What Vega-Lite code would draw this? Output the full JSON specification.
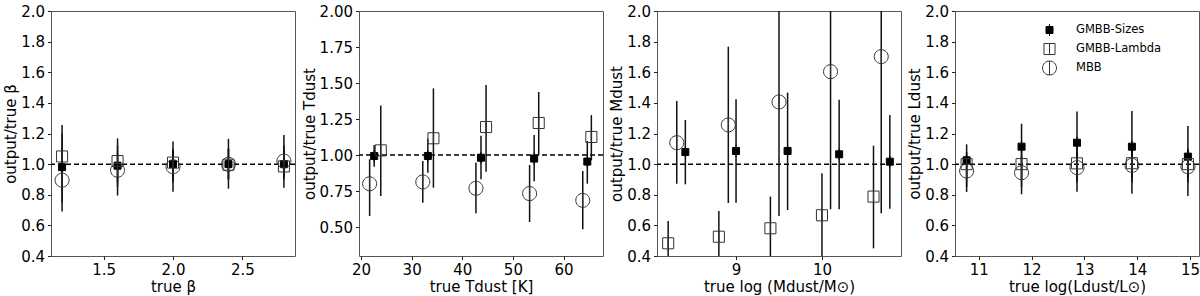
{
  "$schema": "https://vega.github.io/schema/vega-lite/v6.json",
  "padding": {"left": 3, "top": 3, "right": 2, "bottom": 0},
  "background": "white",
  "config": {
    "font": "DejaVu Sans",
    "view": {"stroke": "#555", "strokeWidth": 1},
    "axis": {"grid": false, "domain": false, "tickColor": "#222", "tickSize": 3.5, "tickWidth": 1, "labelFontSize": 15, "titleFontSize": 15, "labelColor": "black", "titleColor": "black", "titleFontWeight": 400, "labelPadding": 3, "titlePadding": 2, "labelFlush": false, "labelOverlap": false, "tickCount": 20}
  },
  "resolve": {
    "scale": {"shape": "independent", "size": "independent", "fill": "independent", "stroke": "independent"},
    "legend": {"shape": "independent", "size": "independent", "fill": "independent", "stroke": "independent"}
  },
  "datasets": {
    "d": [
      {"panel": 1, "series": "GMBB-Sizes", "x": 1.2, "y": 0.98, "lo": 0.69, "hi": 1.255},
      {"panel": 1, "series": "GMBB-Sizes", "x": 1.6, "y": 0.99, "lo": 0.795, "hi": 1.168},
      {"panel": 1, "series": "GMBB-Sizes", "x": 2.0, "y": 1.0, "lo": 0.82, "hi": 1.147},
      {"panel": 1, "series": "GMBB-Sizes", "x": 2.4, "y": 1.0, "lo": 0.84, "hi": 1.165},
      {"panel": 1, "series": "GMBB-Sizes", "x": 2.8, "y": 1.0, "lo": 0.845, "hi": 1.19},
      {"panel": 1, "series": "GMBB-Lambda", "x": 1.2, "y": 1.05, "lo": 0.85, "hi": 1.2},
      {"panel": 1, "series": "GMBB-Lambda", "x": 1.6, "y": 1.02, "lo": 0.88, "hi": 1.12},
      {"panel": 1, "series": "GMBB-Lambda", "x": 2.0, "y": 1.01, "lo": 0.9, "hi": 1.1},
      {"panel": 1, "series": "GMBB-Lambda", "x": 2.4, "y": 0.996, "lo": 0.9, "hi": 1.1},
      {"panel": 1, "series": "GMBB-Lambda", "x": 2.8, "y": 0.985, "lo": 0.9, "hi": 1.1},
      {"panel": 1, "series": "MBB", "x": 1.2, "y": 0.895, "lo": 0.75, "hi": 1.05},
      {"panel": 1, "series": "MBB", "x": 1.6, "y": 0.96, "lo": 0.85, "hi": 1.07},
      {"panel": 1, "series": "MBB", "x": 2.0, "y": 0.983, "lo": 0.88, "hi": 1.09},
      {"panel": 1, "series": "MBB", "x": 2.4, "y": 0.999, "lo": 0.9, "hi": 1.1},
      {"panel": 1, "series": "MBB", "x": 2.8, "y": 1.02, "lo": 0.92, "hi": 1.12},

      {"panel": 2, "series": "GMBB-Sizes", "x": 22.6, "y": 0.994, "lo": 0.92, "hi": 1.07},
      {"panel": 2, "series": "GMBB-Sizes", "x": 33.2, "y": 0.994, "lo": 0.878, "hi": 1.114},
      {"panel": 2, "series": "GMBB-Sizes", "x": 43.7, "y": 0.982, "lo": 0.832, "hi": 1.135},
      {"panel": 2, "series": "GMBB-Sizes", "x": 54.2, "y": 0.976, "lo": 0.818, "hi": 1.14},
      {"panel": 2, "series": "GMBB-Sizes", "x": 64.7, "y": 0.955, "lo": 0.802, "hi": 1.098},
      {"panel": 2, "series": "GMBB-Lambda", "x": 23.9, "y": 1.033, "lo": 0.716, "hi": 1.345},
      {"panel": 2, "series": "GMBB-Lambda", "x": 34.3, "y": 1.117, "lo": 0.774, "hi": 1.463},
      {"panel": 2, "series": "GMBB-Lambda", "x": 44.7, "y": 1.195, "lo": 0.885, "hi": 1.487},
      {"panel": 2, "series": "GMBB-Lambda", "x": 55.1, "y": 1.223, "lo": 1.0, "hi": 1.438},
      {"panel": 2, "series": "GMBB-Lambda", "x": 65.5, "y": 1.126, "lo": 0.964, "hi": 1.278},
      {"panel": 2, "series": "MBB", "x": 21.7, "y": 0.801, "lo": 0.578, "hi": 0.971},
      {"panel": 2, "series": "MBB", "x": 32.2, "y": 0.814, "lo": 0.67, "hi": 0.959},
      {"panel": 2, "series": "MBB", "x": 42.7, "y": 0.77, "lo": 0.596, "hi": 0.948},
      {"panel": 2, "series": "MBB", "x": 53.3, "y": 0.733, "lo": 0.536, "hi": 0.932},
      {"panel": 2, "series": "MBB", "x": 63.8, "y": 0.686, "lo": 0.485, "hi": 0.89},

      {"panel": 3, "series": "GMBB-Sizes", "x": 8.41, "y": 1.079, "lo": 0.868, "hi": 1.288},
      {"panel": 3, "series": "GMBB-Sizes", "x": 9.0, "y": 1.086, "lo": 0.748, "hi": 1.423},
      {"panel": 3, "series": "GMBB-Sizes", "x": 9.6, "y": 1.086, "lo": 0.7, "hi": 1.467},
      {"panel": 3, "series": "GMBB-Sizes", "x": 10.2, "y": 1.064, "lo": 0.705, "hi": 1.42},
      {"panel": 3, "series": "GMBB-Sizes", "x": 10.79, "y": 1.016, "lo": 0.709, "hi": 1.321},
      {"panel": 3, "series": "GMBB-Lambda", "x": 8.21, "y": 0.483, "lo": 0.3, "hi": 0.629},
      {"panel": 3, "series": "GMBB-Lambda", "x": 8.8, "y": 0.526, "lo": 0.3, "hi": 0.694},
      {"panel": 3, "series": "GMBB-Lambda", "x": 9.4, "y": 0.581, "lo": 0.3, "hi": 0.788},
      {"panel": 3, "series": "GMBB-Lambda", "x": 10.0, "y": 0.666, "lo": 0.3, "hi": 0.94},
      {"panel": 3, "series": "GMBB-Lambda", "x": 10.6, "y": 0.788, "lo": 0.45, "hi": 1.12},
      {"panel": 3, "series": "MBB", "x": 8.31, "y": 1.14, "lo": 0.872, "hi": 1.412},
      {"panel": 3, "series": "MBB", "x": 8.91, "y": 1.256, "lo": 0.746, "hi": 1.767},
      {"panel": 3, "series": "MBB", "x": 9.5, "y": 1.406, "lo": 0.661, "hi": 2.2},
      {"panel": 3, "series": "MBB", "x": 10.1, "y": 1.604, "lo": 0.705, "hi": 2.2},
      {"panel": 3, "series": "MBB", "x": 10.69, "y": 1.702, "lo": 0.679, "hi": 2.2},

      {"panel": 4, "series": "GMBB-Sizes", "x": 10.77, "y": 1.025, "lo": 0.818, "hi": 1.129},
      {"panel": 4, "series": "GMBB-Sizes", "x": 11.81, "y": 1.114, "lo": 0.803, "hi": 1.264},
      {"panel": 4, "series": "GMBB-Sizes", "x": 12.86, "y": 1.14, "lo": 0.82, "hi": 1.343},
      {"panel": 4, "series": "GMBB-Sizes", "x": 13.9, "y": 1.114, "lo": 0.807, "hi": 1.347},
      {"panel": 4, "series": "GMBB-Sizes", "x": 14.96, "y": 1.049, "lo": 0.792, "hi": 1.249},
      {"panel": 4, "series": "GMBB-Lambda", "x": 10.77, "y": 1.0, "lo": 0.9, "hi": 1.08},
      {"panel": 4, "series": "GMBB-Lambda", "x": 11.81, "y": 1.0, "lo": 0.9, "hi": 1.1},
      {"panel": 4, "series": "GMBB-Lambda", "x": 12.86, "y": 1.005, "lo": 0.9, "hi": 1.12},
      {"panel": 4, "series": "GMBB-Lambda", "x": 13.9, "y": 1.006, "lo": 0.9, "hi": 1.12},
      {"panel": 4, "series": "GMBB-Lambda", "x": 14.96, "y": 1.0, "lo": 0.9, "hi": 1.1},
      {"panel": 4, "series": "MBB", "x": 10.77, "y": 0.955, "lo": 0.85, "hi": 1.06},
      {"panel": 4, "series": "MBB", "x": 11.81, "y": 0.944, "lo": 0.85, "hi": 1.05},
      {"panel": 4, "series": "MBB", "x": 12.86, "y": 0.977, "lo": 0.88, "hi": 1.08},
      {"panel": 4, "series": "MBB", "x": 13.9, "y": 0.992, "lo": 0.88, "hi": 1.1},
      {"panel": 4, "series": "MBB", "x": 14.96, "y": 0.983, "lo": 0.88, "hi": 1.09}
    ],
    "ref": [{"ref": 1}]
  },
  "spacing": 4,
  "hconcat": [
    {
      "width": 244, "height": 245,
      "layer": [
        {"data": {"name": "ref"}, "mark": {"type": "rule", "strokeDash": [5, 3], "strokeWidth": 1.5, "color": "black"},
         "encoding": {"y": {"field": "ref", "type": "quantitative", "title": "output/true β", "axis": {"values": [0.4, 0.6, 0.8, 1.0, 1.2, 1.4, 1.6, 1.8, 2.0], "format": ".1f", "labelOverlap": false, "tickCount": 20}}}},
        {"data": {"name": "d"}, "transform": [{"filter": "datum.panel == 1"}],
         "mark": {"type": "rule", "strokeWidth": 1.5, "color": "#111", "clip": true},
         "encoding": {
           "x": {"field": "x", "type": "quantitative", "title": "true β", "scale": {"domain": [1.12, 2.88], "nice": false, "zero": false}, "axis": {"values": [1.5, 2.0, 2.5], "format": ".1f", "labelOverlap": false, "tickCount": 20}},
           "y": {"field": "lo", "type": "quantitative", "title": "output/true β", "scale": {"domain": [0.4, 2.0], "nice": false, "zero": false}, "axis": {"values": [0.4, 0.6, 0.8, 1.0, 1.2, 1.4, 1.6, 1.8, 2.0], "format": ".1f", "labelOverlap": false, "tickCount": 20}},
           "y2": {"field": "hi"}}},
        {"data": {"name": "d"}, "transform": [{"filter": "datum.panel == 1"}],
         "mark": {"type": "point", "filled": true, "clip": true, "strokeWidth": 1, "opacity": 1},
         "encoding": {
           "x": {"field": "x", "type": "quantitative", "title": "true β"},
           "y": {"field": "y", "type": "quantitative", "title": "output/true β"},
           "shape": {"field": "series", "type": "nominal", "legend": null, "scale": {"domain": ["GMBB-Sizes", "GMBB-Lambda", "MBB"], "range": ["M-1,-1H1V1H-1Z M0,-1.7V-1 M0,1V1.7", "M-1,-1H1V1H-1Z M0,-1V1", "M1,0A1,1,0,1,1,-1,0A1,1,0,1,1,1,0Z M0,-1V1"]}},
           "size": {"field": "series", "type": "nominal", "legend": null, "scale": {"domain": ["GMBB-Sizes", "GMBB-Lambda", "MBB"], "range": [49, 196, 196]}},
           "fill": {"field": "series", "type": "nominal", "legend": null, "scale": {"domain": ["GMBB-Sizes", "GMBB-Lambda", "MBB"], "range": ["black", "transparent", "transparent"]}},
           "stroke": {"field": "series", "type": "nominal", "legend": null, "scale": {"domain": ["GMBB-Sizes", "GMBB-Lambda", "MBB"], "range": ["black", "#333", "#333"]}}}}
      ]
    },
    {
      "width": 244, "height": 245,
      "layer": [
        {"data": {"name": "ref"}, "mark": {"type": "rule", "strokeDash": [5, 3], "strokeWidth": 1.5, "color": "black"},
         "encoding": {"y": {"field": "ref", "type": "quantitative", "title": "output/true Tdust", "axis": {"values": [0.5, 0.75, 1.0, 1.25, 1.5, 1.75, 2.0], "format": ".2f", "labelOverlap": false, "tickCount": 20}}}},
        {"data": {"name": "d"}, "transform": [{"filter": "datum.panel == 2"}],
         "mark": {"type": "rule", "strokeWidth": 1.5, "color": "#111", "clip": true},
         "encoding": {
           "x": {"field": "x", "type": "quantitative", "title": "true Tdust [K]", "scale": {"domain": [19.6, 67.8], "nice": false, "zero": false}, "axis": {"values": [20, 30, 40, 50, 60], "format": "d", "labelOverlap": false, "tickCount": 20}},
           "y": {"field": "lo", "type": "quantitative", "title": "output/true Tdust", "scale": {"domain": [0.3, 2.0], "nice": false, "zero": false}, "axis": {"values": [0.5, 0.75, 1.0, 1.25, 1.5, 1.75, 2.0], "format": ".2f", "labelOverlap": false, "tickCount": 20}},
           "y2": {"field": "hi"}}},
        {"data": {"name": "d"}, "transform": [{"filter": "datum.panel == 2"}],
         "mark": {"type": "point", "filled": true, "clip": true, "strokeWidth": 1, "opacity": 1},
         "encoding": {
           "x": {"field": "x", "type": "quantitative", "title": "true Tdust [K]"},
           "y": {"field": "y", "type": "quantitative", "title": "output/true Tdust"},
           "shape": {"field": "series", "type": "nominal", "legend": null, "scale": {"domain": ["GMBB-Sizes", "GMBB-Lambda", "MBB"], "range": ["M-1,-1H1V1H-1Z M0,-1.7V-1 M0,1V1.7", "M-1,-1H1V1H-1Z M0,-1V1", "M1,0A1,1,0,1,1,-1,0A1,1,0,1,1,1,0Z M0,-1V1"]}},
           "size": {"field": "series", "type": "nominal", "legend": null, "scale": {"domain": ["GMBB-Sizes", "GMBB-Lambda", "MBB"], "range": [49, 196, 196]}},
           "fill": {"field": "series", "type": "nominal", "legend": null, "scale": {"domain": ["GMBB-Sizes", "GMBB-Lambda", "MBB"], "range": ["black", "transparent", "transparent"]}},
           "stroke": {"field": "series", "type": "nominal", "legend": null, "scale": {"domain": ["GMBB-Sizes", "GMBB-Lambda", "MBB"], "range": ["black", "#333", "#333"]}}}}
      ]
    },
    {
      "width": 244, "height": 245,
      "layer": [
        {"data": {"name": "ref"}, "mark": {"type": "rule", "strokeDash": [5, 3], "strokeWidth": 1.5, "color": "black"},
         "encoding": {"y": {"field": "ref", "type": "quantitative", "title": "output/true Mdust", "axis": {"values": [0.4, 0.6, 0.8, 1.0, 1.2, 1.4, 1.6, 1.8, 2.0], "format": ".1f", "labelOverlap": false, "tickCount": 20}}}},
        {"data": {"name": "d"}, "transform": [{"filter": "datum.panel == 3"}],
         "mark": {"type": "rule", "strokeWidth": 1.5, "color": "#111", "clip": true},
         "encoding": {
           "x": {"field": "x", "type": "quantitative", "title": "true log (Mdust/M⊙)", "scale": {"domain": [8.08, 10.92], "nice": false, "zero": false}, "axis": {"values": [9, 10], "format": "d", "labelOverlap": false, "tickCount": 20}},
           "y": {"field": "lo", "type": "quantitative", "title": "output/true Mdust", "scale": {"domain": [0.4, 2.0], "nice": false, "zero": false}, "axis": {"values": [0.4, 0.6, 0.8, 1.0, 1.2, 1.4, 1.6, 1.8, 2.0], "format": ".1f", "labelOverlap": false, "tickCount": 20}},
           "y2": {"field": "hi"}}},
        {"data": {"name": "d"}, "transform": [{"filter": "datum.panel == 3"}],
         "mark": {"type": "point", "filled": true, "clip": true, "strokeWidth": 1, "opacity": 1},
         "encoding": {
           "x": {"field": "x", "type": "quantitative", "title": "true log (Mdust/M⊙)"},
           "y": {"field": "y", "type": "quantitative", "title": "output/true Mdust"},
           "shape": {"field": "series", "type": "nominal", "legend": null, "scale": {"domain": ["GMBB-Sizes", "GMBB-Lambda", "MBB"], "range": ["M-1,-1H1V1H-1Z M0,-1.7V-1 M0,1V1.7", "M-1,-1H1V1H-1Z M0,-1V1", "M1,0A1,1,0,1,1,-1,0A1,1,0,1,1,1,0Z M0,-1V1"]}},
           "size": {"field": "series", "type": "nominal", "legend": null, "scale": {"domain": ["GMBB-Sizes", "GMBB-Lambda", "MBB"], "range": [49, 196, 196]}},
           "fill": {"field": "series", "type": "nominal", "legend": null, "scale": {"domain": ["GMBB-Sizes", "GMBB-Lambda", "MBB"], "range": ["black", "transparent", "transparent"]}},
           "stroke": {"field": "series", "type": "nominal", "legend": null, "scale": {"domain": ["GMBB-Sizes", "GMBB-Lambda", "MBB"], "range": ["black", "#333", "#333"]}}}}
      ]
    },
    {
      "width": 244, "height": 245,
      "layer": [
        {"data": {"name": "ref"}, "mark": {"type": "rule", "strokeDash": [5, 3], "strokeWidth": 1.5, "color": "black"},
         "encoding": {"y": {"field": "ref", "type": "quantitative", "title": "output/true Ldust", "axis": {"values": [0.4, 0.6, 0.8, 1.0, 1.2, 1.4, 1.6, 1.8, 2.0], "format": ".1f", "labelOverlap": false, "tickCount": 20}}}},
        {"data": {"name": "d"}, "transform": [{"filter": "datum.panel == 4"}],
         "mark": {"type": "rule", "strokeWidth": 1.5, "color": "#111", "clip": true},
         "encoding": {
           "x": {"field": "x", "type": "quantitative", "title": "true log(Ldust/L⊙)", "scale": {"domain": [10.55, 15.17], "nice": false, "zero": false}, "axis": {"values": [11, 12, 13, 14, 15], "format": "d", "labelOverlap": false, "tickCount": 20}},
           "y": {"field": "lo", "type": "quantitative", "title": "output/true Ldust", "scale": {"domain": [0.4, 2.0], "nice": false, "zero": false}, "axis": {"values": [0.4, 0.6, 0.8, 1.0, 1.2, 1.4, 1.6, 1.8, 2.0], "format": ".1f", "labelOverlap": false, "tickCount": 20}},
           "y2": {"field": "hi"}}},
        {"data": {"name": "d"}, "transform": [{"filter": "datum.panel == 4"}],
         "mark": {"type": "point", "filled": true, "clip": true, "strokeWidth": 1, "opacity": 1},
         "encoding": {
           "x": {"field": "x", "type": "quantitative", "title": "true log(Ldust/L⊙)"},
           "y": {"field": "y", "type": "quantitative", "title": "output/true Ldust"},
           "shape": {"field": "series", "type": "nominal", "legend": {"orient": "none", "legendX": 87, "legendY": 11, "title": null, "labelFontSize": 11.5, "labelColor": "black", "rowPadding": 3, "clipHeight": 16, "labelOffset": 19, "symbolStrokeWidth": 1}, "scale": {"domain": ["GMBB-Sizes", "GMBB-Lambda", "MBB"], "range": ["M-1,-1H1V1H-1Z M0,-1.7V-1 M0,1V1.7", "M-1,-1H1V1H-1Z M0,-1V1", "M1,0A1,1,0,1,1,-1,0A1,1,0,1,1,1,0Z M0,-1V1"]}},
           "size": {"field": "series", "type": "nominal", "legend": {"orient": "none", "legendX": 87, "legendY": 11, "title": null, "labelFontSize": 11.5, "labelColor": "black", "rowPadding": 3, "clipHeight": 16, "labelOffset": 19, "symbolStrokeWidth": 1}, "scale": {"domain": ["GMBB-Sizes", "GMBB-Lambda", "MBB"], "range": [49, 196, 196]}},
           "fill": {"field": "series", "type": "nominal", "legend": {"orient": "none", "legendX": 87, "legendY": 11, "title": null, "labelFontSize": 11.5, "labelColor": "black", "rowPadding": 3, "clipHeight": 16, "labelOffset": 19, "symbolStrokeWidth": 1}, "scale": {"domain": ["GMBB-Sizes", "GMBB-Lambda", "MBB"], "range": ["black", "transparent", "transparent"]}},
           "stroke": {"field": "series", "type": "nominal", "legend": {"orient": "none", "legendX": 87, "legendY": 11, "title": null, "labelFontSize": 11.5, "labelColor": "black", "rowPadding": 3, "clipHeight": 16, "labelOffset": 19, "symbolStrokeWidth": 1}, "scale": {"domain": ["GMBB-Sizes", "GMBB-Lambda", "MBB"], "range": ["black", "#333", "#333"]}}}}
      ]
    }
  ]
}
